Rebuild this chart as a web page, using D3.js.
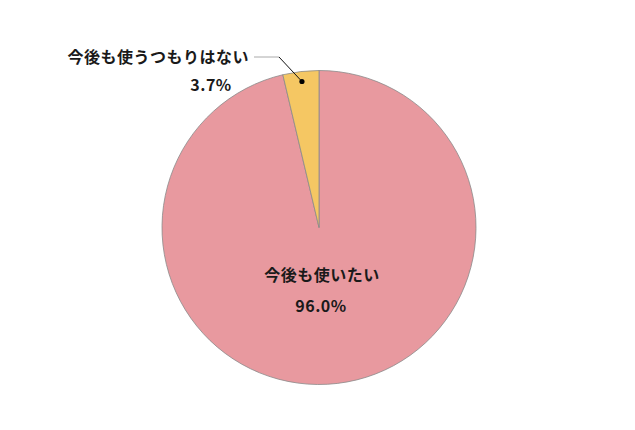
<!DOCTYPE html>
<html><head><meta charset="utf-8">
<script src="https://cdn.jsdelivr.net/npm/d3@7"></script>
<style>body{margin:0;background:#fff}svg{display:block}</style>
</head><body>
<svg id="c" width="635" height="430"></svg>
<script>
const categories = ["今後も使いたい", "今後も使うつもりはない"];
const values = [96.0, 3.7];
const valueLabels = ["96.0%", "3.7%"];
const colors = ["#e8999f", "#f5c763"];

const svg = d3.select("#c");
const cx = 319, cy = 227.5, r = 157;
const g = svg.append("g").attr("transform", `translate(${cx},${cy})`);
// angles in percent of 100: the small slice ends at 12 o'clock,
// the large slice fills the rest of the circle (as in the reference)
const ang = d3.scaleLinear().domain([0, 100]).range([0, 2 * Math.PI]);
const arcs = [
  {startAngle: ang(0), endAngle: ang(100 - values[1])},
  {startAngle: ang(100 - values[1]), endAngle: ang(100)}
];
const arc = d3.arc().innerRadius(0).outerRadius(r);
g.selectAll("path").data(arcs).join("path")
  .attr("d", arc)
  .attr("fill", (d, i) => colors[i])
  .attr("stroke", "#8a8a8a")
  .attr("stroke-width", 0.8)
  .attr("stroke-linejoin", "round");

const font = "'Noto Sans CJK JP', sans-serif";
function label(x, y, anchor, t) {
  svg.append("text").attr("x", x).attr("y", y)
    .attr("text-anchor", anchor).attr("font-family", font).attr("font-weight", 700)
    .attr("font-size", 16).attr("letter-spacing", 0.5).attr("fill", "#1a1a1a").text(t);
}
label(cx + 3, 281, "middle", categories[0]);
label(cx + 2, 312, "middle", valueLabels[0]);

// Small slice leader line
const a1 = arcs[1];
const mid = (a1.startAngle + a1.endAngle) / 2;
const dotR = r - 10;
const dx = cx + Math.sin(mid) * dotR, dy = cy - Math.cos(mid) * dotR;
svg.append("line").attr("x1", 254).attr("y1", 57).attr("x2", 279).attr("y2", 57)
  .attr("stroke", "#aaa").attr("stroke-width", 1);
svg.append("line").attr("x1", 279).attr("y1", 57).attr("x2", dx).attr("y2", dy)
  .attr("stroke", "#111").attr("stroke-width", 1);
svg.append("circle").attr("cx", dx).attr("cy", dy).attr("r", 2.6).attr("fill", "#000");
label(249, 63, "end", categories[1]);
label(211, 91, "middle", valueLabels[1]);
</script>
</body></html>
